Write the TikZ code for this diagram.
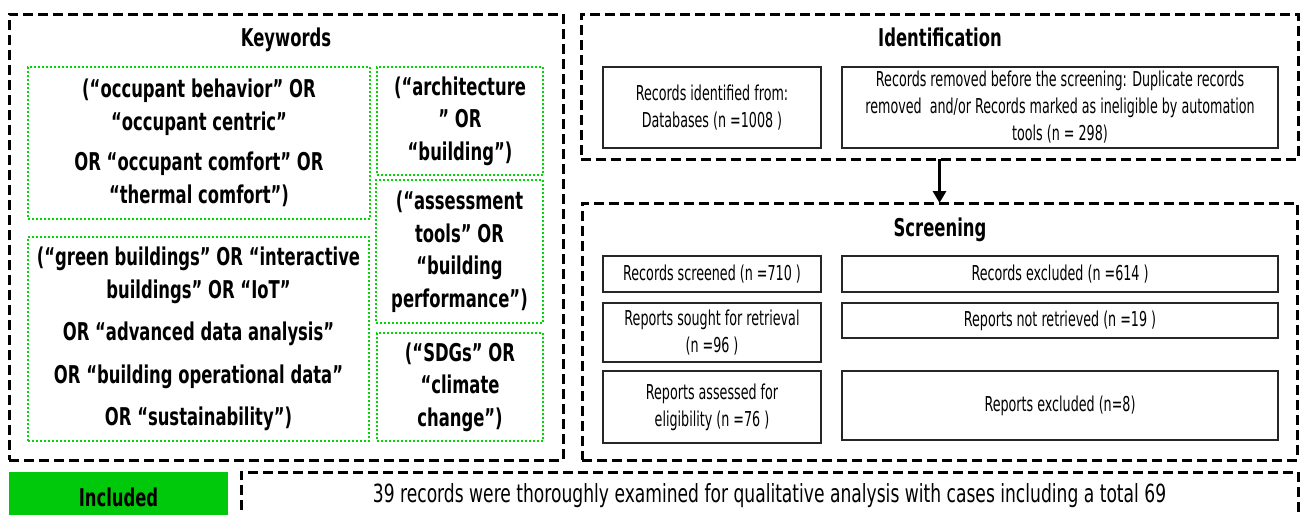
\documentclass[tikz,border=0pt]{standalone}
\usepackage{fontspec}
\setmainfont{DejaVu Sans}[FakeStretch=0.67]
\newfontfamily\recfamily{DejaVu Sans}[FakeStretch=0.62]
\newfontfamily\notefamily{DejaVu Sans}[FakeStretch=0.685]
\usetikzlibrary{arrows.meta}
\definecolor{kwgreen}{RGB}{0,215,0}
\definecolor{incgreen}{RGB}{0,200,10}
% type sizes used in the flow chart
\newcommand\kwfont{\fontsize{24.5}{32.5}\selectfont\bfseries}
\newcommand\headfont{\fontsize{24.5}{30}\selectfont\bfseries}
\newcommand\recfont{\recfamily\fontsize{20.5}{27}\selectfont}
\newcommand\notefont{\notefamily\fontsize{25}{30}\selectfont}
\begin{document}
\begin{tikzpicture}[x=1pt,y=-1pt,
  stage/.style={draw=black, line width=3pt, dash pattern=on 10pt off 5pt,
    inner sep=0pt, outer sep=0pt},
  kwbox/.style={draw=kwgreen, line width=2pt, dash pattern=on 2pt off 2pt,
    align=center, inner sep=0pt, font=\kwfont},
  recbox/.style={draw=black!85, line width=1.8pt, align=center,
    inner sep=0pt, font=\recfont},
  heading/.style={font=\headfont, inner sep=0pt, anchor=base},
  flow/.style={line width=3.5pt, -{Triangle[width=13pt,length=12pt]}}]
\useasboundingbox (0,0) rectangle (1303,514);
\clip (0,0) rectangle (1303,514);

% ---- search keywords ----
\node[stage, minimum width=554pt, minimum height=446pt] (kw) at (286,237) {};
\node[heading] (kwtitle) at (286,46) {Keywords};
\node[kwbox, minimum width=342pt, minimum height=152pt] (kw1) at (199,143)
  {(“occupant behavior” OR\\“occupant centric”\\[8pt]OR “occupant comfort” OR\\“thermal comfort”)};
\node[kwbox, minimum width=166pt, minimum height=108pt] (kw2) at (460,121)
  {(“architecture\\” OR\\“building”)};
\node[kwbox, minimum width=167pt, minimum height=143pt] (kw3) at (459.5,251.5)
  {(“assessment\\tools” OR\\“building\\performance”)};
\node[kwbox, minimum width=341pt, minimum height=204pt] (kw4) at (198.5,339)
  {(“green buildings” OR “interactive\\buildings” OR “IoT”\\[10pt]OR “advanced data analysis”\\[10pt]OR “building operational data”\\[10pt]OR “sustainability”)};
\node[kwbox, minimum width=166pt, minimum height=108pt] (kw5) at (460,387)
  {(“SDGs” OR\\“climate\\change”)};

% ---- identification ----
\node[stage, minimum width=717pt, minimum height=145pt] (ident) at (939.5,86.5) {};
\node[heading] (idtitle) at (940,46) {Identification};
\node[recbox, minimum width=218pt, minimum height=81pt] (id1) at (712,107.5)
  {Records identified from:\\Databases (n =1008 )};
\node[recbox, minimum width=436pt, minimum height=81pt] (id2) at (1060,107.5)
  {Records removed before the screening: Duplicate records\\removed\ \ and/or Records marked as ineligible by automation\\tools (n = 298)};

% ---- screening ----
\node[stage, minimum width=715pt, minimum height=257pt] (screen) at (939.5,331.5) {};
\node[heading] (sctitle) at (940,236) {Screening};
\node[recbox, minimum width=218pt, minimum height=36pt] (sc1) at (712,274)
  {Records screened (n =710 )};
\node[recbox, minimum width=436pt, minimum height=36pt] (sc2) at (1060,274)
  {Records excluded (n =614 )};
\node[recbox, minimum width=218pt, minimum height=59pt] (sc3) at (712,332.5)
  {Reports sought for retrieval\\(n =96 )};
\node[recbox, minimum width=436pt, minimum height=35pt] (sc4) at (1060,320.5)
  {Reports not retrieved (n =19 )};
\node[recbox, minimum width=218pt, minimum height=72pt] (sc5) at (712,407)
  {Reports assessed for\\eligibility (n =76 )};
\node[recbox, minimum width=436pt, minimum height=69pt] (sc6) at (1060,405.5)
  {Reports excluded (n=8)};

\draw[flow] (ident.south) -- (screen.north);

% ---- included ----
\node[fill=incgreen, minimum width=219pt, minimum height=50pt, inner sep=0pt,
  font=\headfont] (inc) at (118.5,497) {Included};
\node[stage, minimum width=1057pt, minimum height=48pt, font=\notefont] (incnote) at (769.5,496)
  {39 records were thoroughly examined for qualitative analysis with cases including a total 69};
\end{tikzpicture}
\end{document}
